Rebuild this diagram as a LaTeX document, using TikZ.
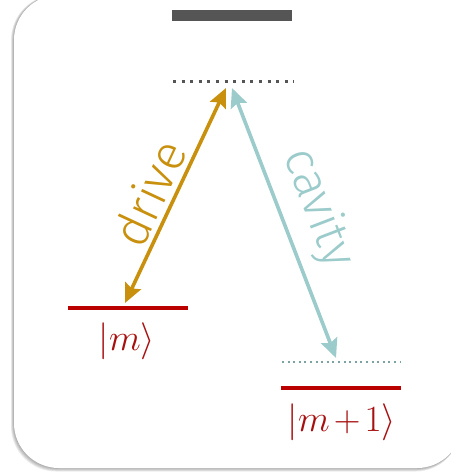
\RequirePackage{fix-cm}
\documentclass[tikz,border=0pt]{standalone}
\usepackage{fontspec}
\newfontfamily\lightsans{Fira Sans Light}
\usetikzlibrary{arrows.meta}
\definecolor{drivegold}{HTML}{C8900C}
\definecolor{cavteal}{HTML}{9CCBCB}
\definecolor{levelred}{HTML}{BB0000}
\definecolor{labelred}{HTML}{A81010}
\definecolor{bargray}{HTML}{555555}
\tikzset{
  card/.style={fill=white, rounded corners=45pt},
  cardshadow/.style={fill=black, opacity=0.07, rounded corners=45pt},
  levelline/.style={draw=levelred, line width=4pt},
  virtualgray/.style={draw=bargray, line width=3pt, dash pattern=on 3pt off 5.6pt},
  virtualteal/.style={draw=cavteal!80!black, line width=2pt, dash pattern=on 2pt off 3.6pt},
  drivearrow/.style={draw=drivegold, line width=3.6pt, {Stealth[length=19pt, width=17pt, inset=3pt]}-{Stealth[length=19pt, width=17pt, inset=3pt]}},
  cavarrow/.style={draw=cavteal, line width=3.6pt, {Stealth[length=19pt, width=17pt, inset=3pt]}-{Stealth[length=19pt, width=17pt, inset=3pt]}},
  statelabel/.style={text=labelred, inner sep=0pt, font=\fontsize{37}{40}\selectfont},
  armlabel/.style={inner sep=0pt, font=\lightsans\fontsize{49}{52}\selectfont}
}
\begin{document}
\begin{tikzpicture}[x=1pt,y=-1pt]
\useasboundingbox (0,0) rectangle (450,473);
\foreach \i in {1,...,5}{
  \path[cardshadow] (14-0.6*\i,-5) rectangle (462-0.3*\i,468+0.7*\i);
}
\path[card] (14,-5) rectangle (462,468);
\fill[white] (380,-6) rectangle (470,80);
% top bar
\fill[bargray] (172,10) rectangle (292,21);
% virtual level
\coordinate (vl) at (173,82);
\coordinate (vr) at (294,82);
\draw[virtualgray] (vl) -- (vr);
% levels
\coordinate (ml) at (68,308);
\coordinate (mr) at (188,308);
\draw[levelline] (ml) -- (mr);
\coordinate (tl) at (282,362);
\coordinate (tr) at (401,362);
\draw[virtualteal] (tl) -- (tr);
\coordinate (nl) at (281,388);
\coordinate (nr) at (401,388);
\draw[levelline] (nl) -- (nr);
\node[statelabel] (mlab) at (127,341) {$|m\rangle$};
\node[statelabel] (nlab) at (342,422) {$|m\mkern2mu{+}\mkern2mu1\rangle$};
% arrows
\coordinate (dtop) at (226,88);
\coordinate (dbot) at (125,303);
\coordinate (ctop) at (232,88);
\coordinate (cbot) at (336,358);
\draw[drivearrow] (dbot) -- (dtop);
\draw[cavarrow] (ctop) -- (cbot);
\node[armlabel, text=drivegold, rotate=65] (drivelab) at (149,193) {drive};
\node[armlabel, text=cavteal, rotate=-69] (cavlab) at (318,208) {cavity};
\end{tikzpicture}
\end{document}
